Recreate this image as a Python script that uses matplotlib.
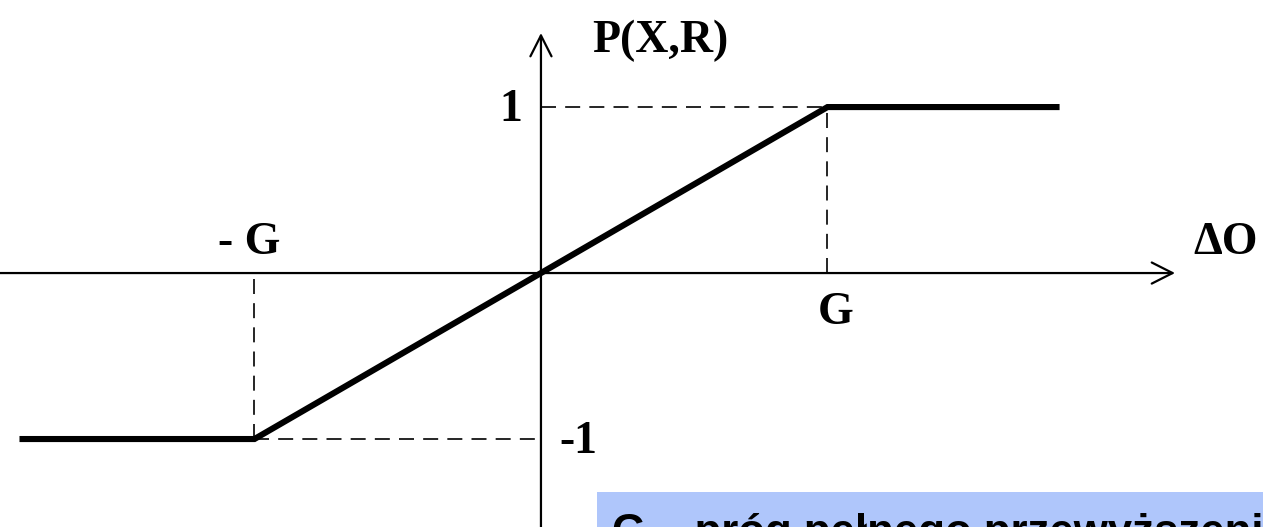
import matplotlib
matplotlib.use("Agg")
import matplotlib.pyplot as plt
from matplotlib.patches import Rectangle

# threshold characteristic P(X,R) vs delta O
G = 1.0
curve_x = [-1.82, -G, G, 1.81]
curve_y = [-1.0, -1.0, 1.0, 1.0]
levels = [1.0, -1.0]

tick_labels = {"1": (-0.105, 0.98), "-1": (0.13, -1.02),
               "- G": (-1.02, 0.18), "G": (1.03, -0.24)}
axis_labels = {"P(X,R)": (0.415, 1.40), "ΔO": (2.39, 0.18)}
note = "G – próg pełnego przewyższenia"

fig = plt.figure(figsize=(12.63, 5.27), dpi=100)
ax = fig.add_axes([0, 0, 1, 1])
ax.set_xlim(-1.888, 2.520)
ax.set_ylim(-1.530, 1.645)
ax.axis("off")

# axes with open arrow heads
arrow = dict(arrowstyle="->,head_length=0.75,head_width=0.38", lw=1.6,
             color="black", mutation_scale=20, shrinkA=0, shrinkB=0)
ax.annotate("", xy=(2.213, 0), xytext=(-1.888, 0), arrowprops=arrow)
ax.annotate("", xy=(0, 1.446), xytext=(0, -1.530), arrowprops=arrow)

# dashed helper lines
dash = dict(color="black", lw=1.2, linestyle=(0, (9, 5.5)))
ax.plot([0, G], [levels[0], levels[0]], **dash)
ax.plot([G, G], [0, levels[0]], **dash)
ax.plot([-G, 0], [levels[1], levels[1]], **dash)
ax.plot([-G, -G], [levels[1], 0], **dash)

# characteristic
ax.plot(curve_x, curve_y, color="black", lw=4.4, solid_joinstyle="miter",
        solid_capstyle="butt")

serif = dict(family="Liberation Serif", fontweight="bold", fontsize=33,
             ha="center", va="center")
for txt, (x, y) in tick_labels.items():
    ax.text(x, y, txt, **serif)
for txt, (x, y) in axis_labels.items():
    ax.text(x, y, txt, **serif)

# note box at the bottom right (cut by the lower edge, as in the source slide)
fig.patches.append(Rectangle((597 / 1263, 0), 1, (527 - 492) / 527,
                             transform=fig.transFigure, facecolor="#afc6fb",
                             edgecolor="none", zorder=0))
fig.text(612 / 1263, -0.034, note, family="Liberation Sans", fontweight="bold",
         fontsize=31.5, ha="left", va="baseline")

fig.savefig("out.png", dpi=100)
